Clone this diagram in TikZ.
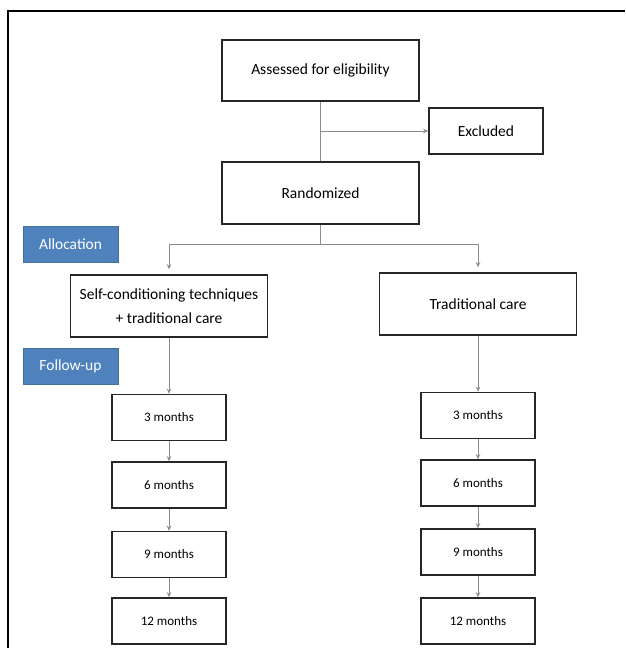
\documentclass[tikz,border=0pt]{standalone}
\usepackage{fontspec}
\setmainfont{Carlito}
\usetikzlibrary{arrows.meta}
\definecolor{boxline}{HTML}{262626}
\definecolor{conn}{HTML}{8C8C8C}
\definecolor{tagblue}{HTML}{4F81BD}
\definecolor{tagline}{HTML}{41719C}
\begin{document}
\begin{tikzpicture}[x=1pt,y=-1pt,
  flowbox/.style={draw=boxline,line width=1.6pt,fill=white,inner sep=2pt,align=center,
    font=\fontsize{15.5}{24}\selectfont},
  monthbox/.style={draw=boxline,line width=1.6pt,fill=white,inner sep=2pt,
    minimum width=114pt,minimum height=46pt,font=\fontsize{13}{15}\selectfont},
  tagbox/.style={fill=tagblue,draw=tagline,line width=0.6pt,text=white,
    minimum width=95pt,minimum height=36pt,inner sep=2pt,font=\fontsize{15.5}{18}\selectfont},
  conline/.style={draw=conn,line width=0.9pt},
  conarrow/.style={conline,-{Stealth[length=5pt,width=4.5pt]}}]
\useasboundingbox (0,0) rectangle (625,648);
\fill[white] (0,0) rectangle (625,648);
% outer frame
\draw[black,line width=1.8pt] (8,648) -- (8,11) -- (625,11);

\node[flowbox,minimum width=197pt,minimum height=61pt] (A) at (320.5,70.5) {Assessed for eligibility};
\node[flowbox,minimum width=114pt,minimum height=46pt] (E) at (486,131) {Excluded};
\node[flowbox,minimum width=197pt,minimum height=62pt] (R) at (320.5,193) {Randomized};
\node[tagbox] (alloc) at (70.5,244) {Allocation};
\node[flowbox,minimum width=197pt,minimum height=62pt] (L) at (169,306) {Self-conditioning techniques\\+ traditional care};
\node[flowbox,minimum width=197pt,minimum height=62pt] (T) at (478,304) {Traditional care};
\node[tagbox] (fu) at (70.5,366.5) {Follow-up};

\node[monthbox] (L3) at (169,417.5) {3 months};
\node[monthbox] (L6) at (169,485) {6 months};
\node[monthbox] (L9) at (169,554.5) {9 months};
\node[monthbox] (L12) at (169,621) {12 months};
\node[monthbox] (R3) at (478,415.5) {3 months};
\node[monthbox] (R6) at (478,483) {6 months};
\node[monthbox] (R9) at (478,552) {9 months};
\node[monthbox] (R12) at (478,621) {12 months};

% connectors
\draw[conline] (A.south) -- (R.north);
\coordinate (ex) at (A.south |- E.west);
\draw[conarrow] (ex) -- (E.west);
\coordinate (br) at (320.5,244);
\draw[conline] (R.south) -- (br);
\draw[conarrow,shorten >=5pt] (br) -| (L.north);
\draw[conarrow,shorten >=5pt] (br) -| (T.north);
\draw[conarrow] (L.south) -- (L3.north);
\draw[conarrow] (L3.south) -- (L6.north);
\draw[conarrow] (L6.south) -- (L9.north);
\draw[conarrow] (L9.south) -- (L12.north);
\draw[conarrow] (T.south) -- (R3.north);
\draw[conarrow] (R3.south) -- (R6.north);
\draw[conarrow] (R6.south) -- (R9.north);
\draw[conarrow] (R9.south) -- (R12.north);
\end{tikzpicture}
\end{document}
